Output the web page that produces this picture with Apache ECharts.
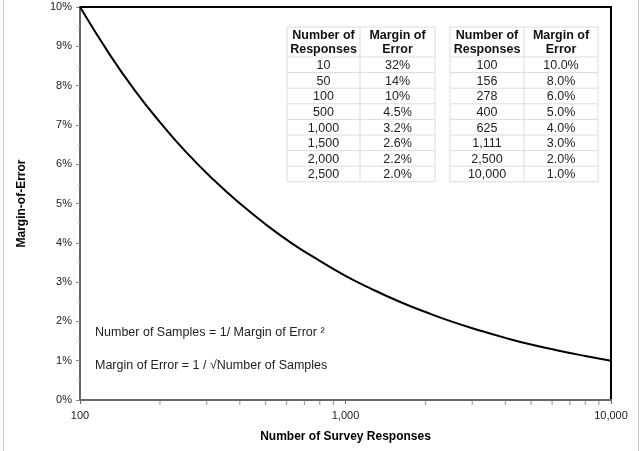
<!DOCTYPE html>
<html>
<head>
<meta charset="utf-8">
<script src="https://cdn.jsdelivr.net/npm/echarts@6/dist/echarts.min.js"></script>
<style>
  html, body { margin: 0; padding: 0; background: #fff; }
  #main { width: 640px; height: 451px; }
</style>
</head>
<body>
<div id="main"></div>
<script>
// responses (x) and margin of error in % (y)
var responses = [100, 130, 160, 200, 250, 320, 400, 500, 630, 800, 1000, 1250, 1600, 2000, 2500, 3200, 4000, 5000, 6300, 8000, 10000];
var marginPct = [10, 8.77, 7.9, 7.07, 6.32, 5.59, 5, 4.47, 3.98, 3.54, 3.16, 2.83, 2.5, 2.24, 2, 1.77, 1.58, 1.41, 1.26, 1.12, 1];

// minor ticks on the log x axis
var minorTicks = [200, 300, 400, 500, 600, 700, 800, 900, 2000, 3000, 4000, 5000, 6000, 7000, 8000, 9000];

// the two little tables in the corner
var tableHeader = ['Number of\nResponses', 'Margin of\nError'];
var leftResponses = ['10', '50', '100', '500', '1,000', '1,500', '2,000', '2,500'];
var leftMargins = ['32%', '14%', '10%', '4.5%', '3.2%', '2.6%', '2.2%', '2.0%'];
var rightResponses = ['100', '156', '278', '400', '625', '1,111', '2,500', '10,000'];
var rightMargins = ['10.0%', '8.0%', '6.0%', '5.0%', '4.0%', '3.0%', '2.0%', '1.0%'];

var formulaLines = ['Number of Samples = 1/ Margin of Error \u00b2', 'Margin of Error = 1 / \u221aNumber of Samples'];

var chart = echarts.init(document.getElementById('main'));
var font = 'Arial, "Liberation Sans", sans-serif';

// build table graphic
function buildTable(x0, colW, col1, col2) {
  var els = [];
  var headH = 30, rowH = 15.6, y0 = 27;
  var total = colW[0] + colW[1];
  els.push({
    type: 'rect', shape: { x: x0, y: y0, width: total, height: headH + rowH * col1.length },
    style: { fill: '#fff', stroke: '#dcdcdc', lineWidth: 1 }, z: 10
  });
  // vertical divider
  els.push({
    type: 'line', shape: { x1: x0 + colW[0], y1: y0, x2: x0 + colW[0], y2: y0 + headH + rowH * col1.length },
    style: { stroke: '#dcdcdc', lineWidth: 1 }, z: 11
  });
  for (var h = 0; h < 2; h++) {
    els.push({
      type: 'text', x: x0 + (h === 0 ? colW[0] / 2 : colW[0] + colW[1] / 2), y: y0 + headH / 2 + 1,
      style: { text: tableHeader[h], font: 'bold 12.5px ' + font, fill: '#111', align: 'center', verticalAlign: 'middle', lineHeight: 14 },
      z: 12
    });
  }
  for (var i = 0; i < col1.length; i++) {
    var ry = y0 + headH + rowH * i;
    els.push({
      type: 'line', shape: { x1: x0, y1: ry, x2: x0 + total, y2: ry },
      style: { stroke: '#dcdcdc', lineWidth: 1 }, z: 11
    });
    els.push({
      type: 'text', x: x0 + colW[0] / 2, y: ry + rowH / 2 + 1,
      style: { text: col1[i], font: '12.5px ' + font, fill: '#222', align: 'center', verticalAlign: 'middle' }, z: 12
    });
    els.push({
      type: 'text', x: x0 + colW[0] + colW[1] / 2, y: ry + rowH / 2 + 1,
      style: { text: col2[i], font: '12.5px ' + font, fill: '#222', align: 'center', verticalAlign: 'middle' }, z: 12
    });
  }
  return els;
}

var graphics = []
  .concat(buildTable(287, [73, 75], leftResponses, leftMargins))
  .concat(buildTable(450, [74, 74], rightResponses, rightMargins));

formulaLines.forEach(function (t, i) {
  graphics.push({
    type: 'text', x: 95, y: 333 + i * 33,
    style: { text: t, font: '12.5px ' + font, fill: '#222', verticalAlign: 'middle' }, z: 12
  });
});
// light grey frame of the picture
graphics.push({ type: 'line', shape: { x1: 3.5, y1: 0, x2: 3.5, y2: 451 }, style: { stroke: '#c8c8c8', lineWidth: 1 } });
graphics.push({ type: 'line', shape: { x1: 638.5, y1: 0, x2: 638.5, y2: 451 }, style: { stroke: '#c8c8c8', lineWidth: 1 } });

var option = {
  animation: false,
  backgroundColor: '#fff',
  grid: {
    left: 80, right: 29, top: 7, bottom: 51,
    show: true, borderColor: '#000', borderWidth: 2, backgroundColor: '#fff'
  },
  xAxis: {
    type: 'log',
    logBase: 10,
    min: 100,
    max: 10000,
    name: 'Number of Survey Responses',
    nameLocation: 'middle',
    nameGap: 31,
    nameTextStyle: { fontFamily: font, fontSize: 12, fontWeight: 'bold', color: '#000' },
    axisLine: { lineStyle: { color: '#666', width: 2 } },
    axisTick: { show: true, length: 4, lineStyle: { color: '#666' } },
    axisLabel: {
      fontFamily: font, fontSize: 11, color: '#222', margin: 10,
      formatter: function (v) { return Math.round(v).toLocaleString('en-US'); }
    },
    splitLine: { show: false },
    minorTick: { show: false }
  },
  yAxis: {
    type: 'value',
    min: 0,
    max: 10,
    interval: 1,
    name: 'Margin-of-Error',
    nameLocation: 'middle',
    nameGap: 52,
    nameTextStyle: { fontFamily: font, fontSize: 12, fontWeight: 'bold', color: '#000' },
    axisLine: { show: true, lineStyle: { color: '#666', width: 2 } },
    axisTick: { show: true, length: 4, lineStyle: { color: '#888' } },
    minorTick: { show: true, splitNumber: 2, length: 2, lineStyle: { color: '#aaa' } },
    axisLabel: { fontFamily: font, fontSize: 11, color: '#222', margin: 8, formatter: '{value}%' },
    splitLine: { show: false }
  },
  series: [
    {
      type: 'line',
      data: responses.map(function (r, i) { return [r, marginPct[i]]; }),
      smooth: true,
      showSymbol: false,
      lineStyle: { color: '#000', width: 2 },
      silent: true,
      z: 5
    },
    {
      type: 'scatter',
      data: minorTicks.map(function (v) { return [v, 0]; }),
      symbol: 'rect',
      symbolSize: [1, 4],
      symbolOffset: [0, 3],
      itemStyle: { color: '#777' },
      silent: true,
      clip: false,
      z: 4
    }
  ],
  graphic: graphics
};

chart.setOption(option);
</script>
</body>
</html>
